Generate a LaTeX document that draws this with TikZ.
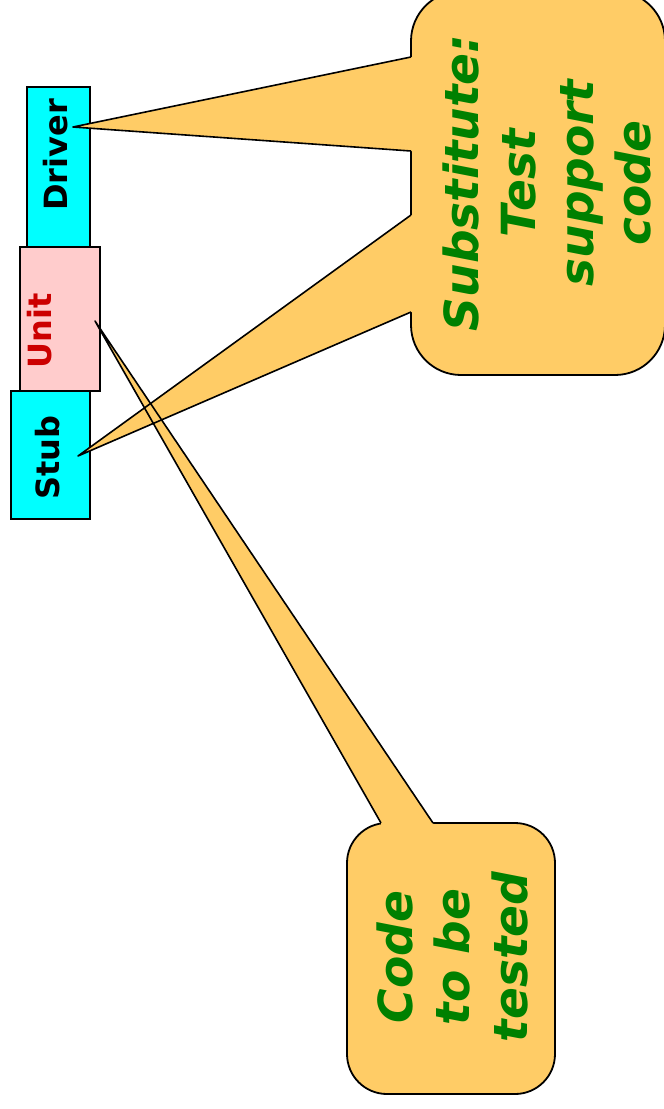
\documentclass[tikz,border=0pt]{standalone}
\usepackage{fontspec}
\setmainfont{DejaVu Sans}
\definecolor{callfill}{RGB}{255,204,102}
\definecolor{boxcyan}{RGB}{0,255,255}
\definecolor{boxpink}{RGB}{255,204,204}
\definecolor{txtgreen}{RGB}{0,128,0}
\definecolor{txtred}{RGB}{204,0,0}
\tikzset{
  unitbox/.style={draw=black, line width=1.8pt, inner sep=0pt},
  boxtext/.style={inner sep=0pt, rotate=90, font=\fontsize{32}{38}\selectfont\bfseries},
  callbox/.style={draw=black, fill=callfill, line width=1.8pt, inner sep=0pt},
  calltext/.style={inner sep=0pt, rotate=90, align=center, text=txtgreen,
    font=\fontsize{47}{57.5}\selectfont\bfseries\itshape},
  ptrfill/.style={fill=callfill},
  ptrline/.style={draw=black, line width=1.6pt, line join=round}
}
\begin{document}
\begin{tikzpicture}[x=1pt,y=-1pt]
\clip (0,0) rectangle (664,1109);
\fill[white] (0,0) rectangle (664,1109);

% unit under test and its drivers / stubs
\node[unitbox, fill=boxcyan, minimum width=63pt, minimum height=160pt] (driver) at (58.5,167) {};
\node[unitbox, fill=boxpink, minimum width=80pt, minimum height=144pt] (unit) at (60,319) {};
\node[unitbox, fill=boxcyan, minimum width=79pt, minimum height=128pt] (stub) at (50.5,455) {};
\node[boxtext] (drivertext) at (56,155) {Driver};
\node[boxtext, text=txtred] (unittext) at (40,331) {Unit};
\node[boxtext] (stubtext) at (47.5,457.5) {Stub};

% pointer tips
\coordinate (tipd) at (73,127);
\coordinate (tips) at (78,456);
\coordinate (tipu) at (95,321);

% callout boxes
\node[callbox, rounded corners=50pt, minimum width=254pt, minimum height=384pt] (sub) at (538,183) {};
\node[callbox, rounded corners=40pt, minimum width=208pt, minimum height=271pt] (cut) at (451,958.5) {};

% base points of the pointers
\coordinate (d1) at (411,57);  \coordinate (d2) at (411,151);
\coordinate (s1) at (411,215); \coordinate (s2) at (411,312);
\coordinate (u1) at (381,823); \coordinate (u2) at (433,823);

% pointers
\fill[ptrfill] (tipd) -- (d1) -- ([xshift=8pt]d1) -- ([xshift=8pt]d2) -- (d2) -- cycle;
\fill[ptrfill] (tips) -- (s1) -- ([xshift=8pt]s1) -- ([xshift=8pt]s2) -- (s2) -- cycle;
\fill[ptrfill] (tipu) -- (u1) -- ([yshift=-8pt]u1) -- ([yshift=-8pt]u2) -- (u2) -- cycle;
\draw[ptrline] (d1) -- (tipd) -- (d2);
\draw[ptrline] (s1) -- (tips) -- (s2);
\draw[ptrline] (u1) -- (tipu) -- (u2);

% callout texts
\node[calltext] (subtext) at (547,183) {Substitute:\\Test\\support\\code};
\node[calltext] (cuttext) at (452,957) {Code\\to be\\tested};
\end{tikzpicture}
\end{document}
